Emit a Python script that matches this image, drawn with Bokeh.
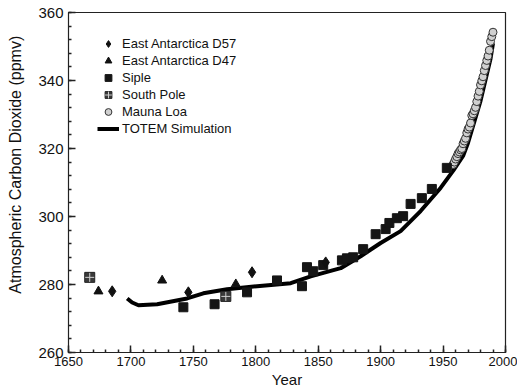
from bokeh.plotting import figure
from bokeh.models import Range1d, FixedTicker, Legend, LegendItem
from bokeh.embed import file_html
from bokeh.resources import INLINE

# ---- data ----
d57_year = [1685, 1746, 1797, 1856]
d57_co2 = [278.0, 277.7, 283.6, 286.5]

d47_year = [1674, 1725, 1784]
d47_co2 = [278.0, 281.2, 280.1]

siple_year = [1742, 1767, 1793, 1817, 1837, 1841, 1846, 1854, 1869, 1873, 1878,
              1886, 1896, 1904, 1907, 1913, 1918, 1924, 1933, 1941, 1953]
siple_co2 = [273.3, 274.2, 277.7, 281.2, 279.5, 285.1, 283.9, 285.7, 287.1, 287.7, 288.0,
             290.4, 294.8, 296.3, 298.1, 299.5, 300.1, 303.7, 305.4, 308.1, 314.3]

southpole_year = [1667, 1776]
southpole_co2 = [282.1, 276.5]

maunaloa_year = list(range(1958, 1991))
maunaloa_co2 = [315.3, 316.0, 316.9, 317.6, 318.5, 319.0, 319.6, 320.0, 321.4, 322.2,
                323.0, 324.6, 325.7, 326.3, 327.5, 329.7, 330.2, 331.1, 332.1, 333.8,
                335.4, 336.8, 338.7, 339.9, 341.1, 342.9, 344.4, 345.9, 347.2, 348.9,
                351.5, 352.9, 354.2]

totem_year = [1697, 1701, 1706, 1721, 1745, 1758, 1777, 1801, 1828, 1844, 1868,
              1884, 1900, 1916, 1932, 1948, 1958, 1966, 1970, 1980, 1988, 1990]
totem_co2 = [275.9, 274.7, 273.9, 274.2, 275.9, 277.4, 278.6, 279.5, 280.4, 282.4, 284.8,
             288.3, 292.2, 295.7, 301.6, 308.4, 313.4, 317.8, 321.7, 334.0, 346.4, 351.0]

x_ticks = [1650, 1700, 1750, 1800, 1850, 1900, 1950, 2000]
y_ticks = [260, 280, 300, 320, 340, 360]

FONT = "Liberation Sans"
INK = "#111111"

p = figure(frame_width=437, frame_height=340, output_backend="svg",
           toolbar_location=None, x_range=Range1d(1650, 2000), y_range=Range1d(260, 360),
           min_border_left=68, min_border_top=12, min_border_right=12, min_border_bottom=5)
p.grid.visible = False
p.background_fill_color = "white"
p.border_fill_color = "white"
p.outline_line_color = "#222222"
p.outline_line_width = 1.2

p.xaxis.ticker = FixedTicker(ticks=x_ticks, minor_ticks=list(range(1650, 2001, 10)))
p.yaxis.ticker = FixedTicker(ticks=y_ticks, minor_ticks=list(range(260, 361, 4)))

for ax in (p.xaxis[0], p.yaxis[0]):
    ax.major_tick_in = 7
    ax.major_tick_out = 0
    ax.minor_tick_in = 3
    ax.minor_tick_out = 0
    ax.axis_line_color = "#222222"
    ax.major_tick_line_color = "#222222"
    ax.minor_tick_line_color = "#222222"
    ax.major_tick_line_width = 1.5
    ax.minor_tick_line_width = 1.5
    ax.major_label_text_font = FONT
    ax.major_label_text_color = INK
    ax.axis_label_text_font = FONT
    ax.axis_label_text_color = INK
    ax.axis_label_text_font_style = "normal"

p.xaxis.axis_label = "Year"
p.xaxis.major_label_text_font_size = "13px"
p.xaxis.axis_label_text_font_size = "15px"
p.xaxis.major_label_standoff = 4
p.xaxis.axis_label_standoff = 2

p.yaxis.axis_label = "\u00a0" * 8 + "Atmospheric Carbon Dioxide (ppmv)"
p.yaxis.major_label_text_font_size = "15px"
p.yaxis.axis_label_text_font_size = "16px"
p.yaxis.major_label_standoff = 5
p.yaxis.axis_label_standoff = 11

r_totem = p.line(totem_year, totem_co2, line_color="black", line_width=4)
r_ml = p.scatter(maunaloa_year, maunaloa_co2, marker="circle", size=8,
                 fill_color="#d0d0d0", line_color="#333333", line_width=1)
r_siple = p.scatter(siple_year, siple_co2, marker="square", size=9,
                    fill_color="#151515", line_color="#151515")
r_sp1 = p.scatter(southpole_year, southpole_co2, marker="square", size=10,
                  fill_color="#3a3a3a", line_color="#222222")
r_sp2 = p.scatter(southpole_year, southpole_co2, marker="cross", size=9,
                  line_color="#cfcfcf", line_width=1)
r_d47 = p.scatter(d47_year, d47_co2, marker="triangle", size=9,
                  fill_color="#111111", line_color="#111111")
r_d57 = p.scatter(d57_year, d57_co2, marker="diamond", size=11,
                  fill_color="#111111", line_color="#111111")

legend = Legend(items=[
    LegendItem(label="East Antarctica D57", renderers=[r_d57]),
    LegendItem(label="East Antarctica D47", renderers=[r_d47]),
    LegendItem(label="Siple", renderers=[r_siple]),
    LegendItem(label="South Pole", renderers=[r_sp1, r_sp2]),
    LegendItem(label="Mauna Loa", renderers=[r_ml]),
    LegendItem(label="TOTEM Simulation", renderers=[r_totem]),
], location=(29, 215))
legend.glyph_width = 22
legend.glyph_height = 17
legend.label_height = 17
legend.spacing = 0
legend.padding = 0
legend.margin = 0
legend.label_standoff = 3
legend.border_line_color = None
legend.background_fill_alpha = 0
legend.label_text_font = FONT
legend.label_text_font_size = "13px"
legend.label_text_color = INK
p.add_layout(legend, "center")

open("out.html", "w").write(file_html(p, INLINE))
